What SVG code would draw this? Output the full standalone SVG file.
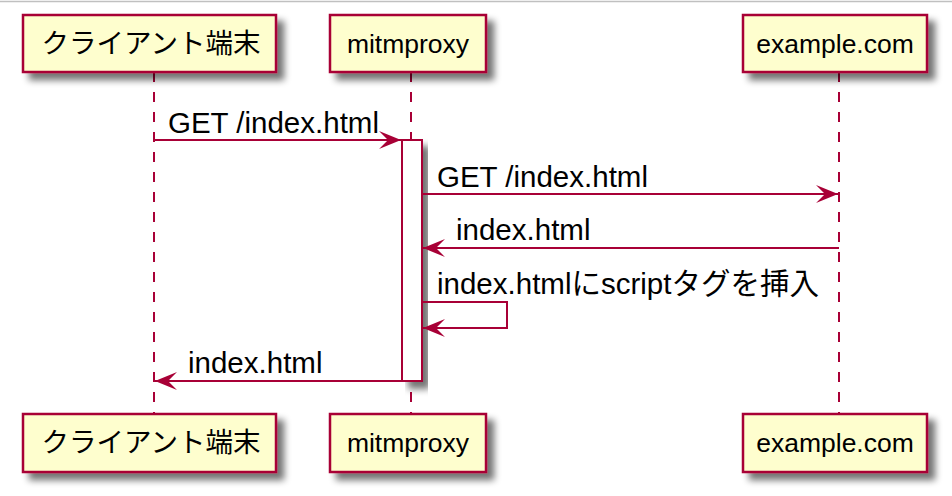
<svg xmlns="http://www.w3.org/2000/svg" width="952" height="496" viewBox="0 0 952 496">
  <defs>
    <filter id="shadow" x="-20%" y="-20%" width="150%" height="160%">
      <feGaussianBlur in="SourceAlpha" stdDeviation="3.5"/>
      <feOffset dx="7" dy="7" result="b"/>
      <feComponentTransfer in="b" result="s"><feFuncA type="linear" slope="0.55"/></feComponentTransfer>
      <feMerge><feMergeNode in="s"/><feMergeNode in="SourceGraphic"/></feMerge>
    </filter>
    <marker id="arrow" viewBox="0 0 22 18" refX="22" refY="9" markerWidth="22" markerHeight="18" markerUnits="userSpaceOnUse" orient="auto">
      <path d="M22,9 L0,0 L9,9 L0,18 Z" fill="#A80036"/>
    </marker>
  </defs>
  <style>
    .box { fill: #FEFECE; stroke: #A80036; stroke-width: 2.5; }
    .act { fill: #FFFFFF; stroke: #A80036; stroke-width: 2; }
    .life { stroke: #A80036; stroke-width: 2; stroke-dasharray: 10,10; fill: none; }
    .msg { stroke: #A80036; stroke-width: 2; fill: none; marker-end: url(#arrow); }
    .pt { font-family: "Liberation Sans", "Noto Sans CJK JP", sans-serif; font-size: 26.5px; fill: #000; text-anchor: middle; }
    .ml { font-family: "Liberation Sans", "Noto Sans CJK JP", sans-serif; font-size: 29.5px; fill: #000; }
  </style>
  <rect x="0" y="0" width="952" height="496" fill="#FFFFFF"/>
  <line x1="0" y1="1.5" x2="952" y2="1.5" stroke="#C0C0C0" stroke-width="1.5"/>

  <g id="lifelines">
    <line class="life" x1="154" y1="72" x2="154" y2="414"/>
    <line class="life" x1="411" y1="72" x2="411" y2="414"/>
    <line class="life" x1="839" y1="72" x2="839" y2="414"/>
  </g>

  <g id="client-top">
    <rect class="box" x="23" y="15" width="253" height="57" filter="url(#shadow)"/>
    <text class="pt" x="151" y="53" style="font-size:27.5px">クライアント端末</text>
  </g>
  <g id="mitmproxy-top">
    <rect class="box" x="330" y="15" width="156" height="57" filter="url(#shadow)"/>
    <text class="pt" x="408" y="53">mitmproxy</text>
  </g>
  <g id="example-top">
    <rect class="box" x="743" y="15" width="184" height="57" filter="url(#shadow)"/>
    <text class="pt" x="835" y="53">example.com</text>
  </g>

  <g id="client-bottom">
    <rect class="box" x="23" y="414" width="253" height="58" filter="url(#shadow)"/>
    <text class="pt" x="151" y="452" style="font-size:27.5px">クライアント端末</text>
  </g>
  <g id="mitmproxy-bottom">
    <rect class="box" x="330" y="414" width="156" height="58" filter="url(#shadow)"/>
    <text class="pt" x="408" y="452">mitmproxy</text>
  </g>
  <g id="example-bottom">
    <rect class="box" x="743" y="414" width="184" height="58" filter="url(#shadow)"/>
    <text class="pt" x="835" y="452">example.com</text>
  </g>

  <g id="activation">
    <rect class="act" x="402" y="140" width="20" height="241" filter="url(#shadow)"/>
  </g>

  <g id="connectors">
    <line class="msg" x1="154" y1="140" x2="401" y2="140"/>
    <text class="ml" x="168" y="133">GET /index.html</text>

    <line class="msg" x1="422" y1="194" x2="838" y2="194"/>
    <text class="ml" x="437" y="187">GET /index.html</text>

    <line class="msg" x1="839" y1="248" x2="423" y2="248"/>
    <text class="ml" x="456" y="240">index.html</text>

    <polyline class="msg" points="422,302 507,302 507,328 423,328"/>
    <text class="ml" x="437" y="294">index.htmlにscriptタグを挿入</text>

    <line class="msg" x1="402" y1="381" x2="155" y2="381"/>
    <text class="ml" x="188" y="373">index.html</text>
  </g>
</svg>
